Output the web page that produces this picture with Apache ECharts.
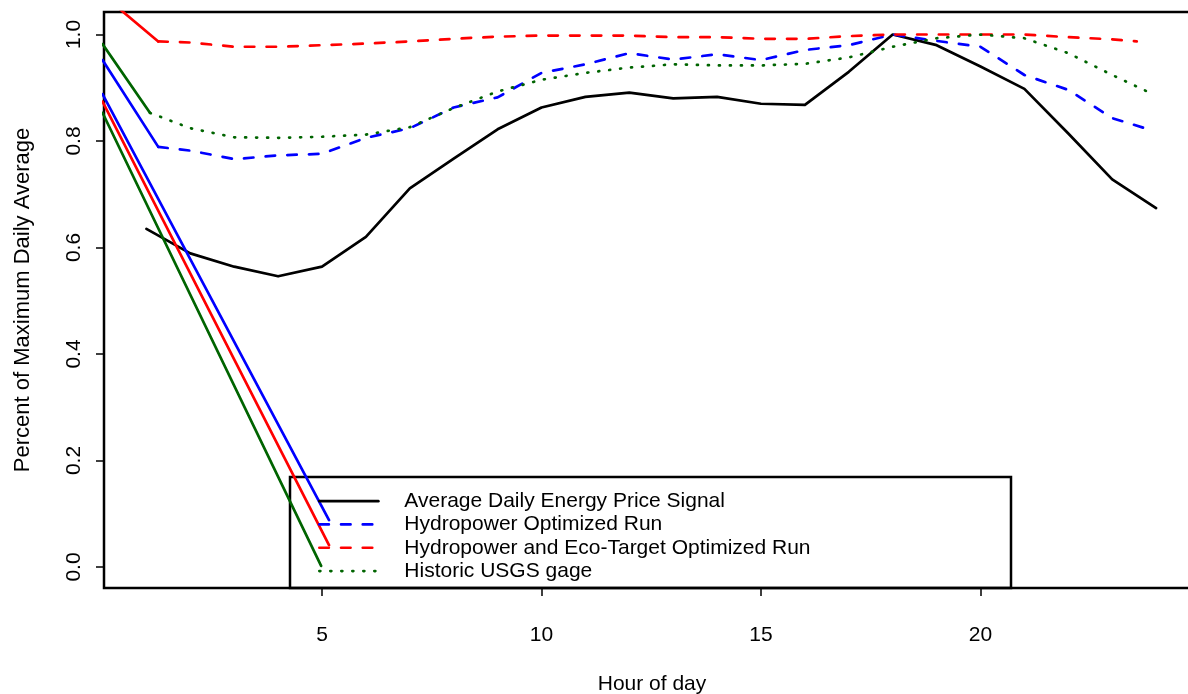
<!DOCTYPE html>
<html>
<head>
<meta charset="utf-8">
<script src="https://cdn.jsdelivr.net/npm/echarts@6/dist/echarts.min.js"></script>
<style>
  html, body { margin: 0; padding: 0; background: #ffffff; }
  #chart { width: 1188px; height: 694px; }
</style>
</head>
<body>
<div id="chart"></div>
<script>
// Hourly profiles, each normalised by its maximum daily average
const hours = [1, 2, 3, 4, 5, 6, 7, 8, 9, 10, 11, 12, 13, 14, 15, 16, 17, 18, 19, 20, 21, 22, 23, 24];
const priceSignal = [0.635, 0.589, 0.564, 0.546, 0.564, 0.620, 0.711, 0.767, 0.822, 0.863, 0.883, 0.891,
                     0.880, 0.883, 0.870, 0.868, 0.930, 1.000, 0.980, 0.940, 0.898, 0.814, 0.728, 0.674];

const hydroHours = [1.27, 2, 3, 4, 5, 6, 7, 8, 9, 10, 11, 12, 13, 14, 15, 16, 17, 18, 19, 20, 21, 22, 23, 23.71];
const hydroValues = [0.789, 0.782, 0.766, 0.773, 0.776, 0.806, 0.824, 0.863, 0.882, 0.928, 0.944, 0.965,
                     0.953, 0.963, 0.952, 0.971, 0.980, 1.000, 0.988, 0.977, 0.924, 0.896, 0.843, 0.825];

const ecoHours = [1.27, 2, 3, 4, 5, 6, 7, 8, 9, 10, 11, 12, 13, 14, 15, 16, 17, 18, 19, 20, 21, 22, 23, 23.56];
const ecoValues = [0.987, 0.985, 0.977, 0.977, 0.980, 0.983, 0.987, 0.992, 0.996, 0.998, 0.998, 0.998,
                   0.995, 0.995, 0.992, 0.992, 0.997, 1.000, 1.000, 1.000, 1.000, 0.995, 0.991, 0.987];

const gageHours = [1.08, 2, 3, 4, 5, 6, 7, 8, 9, 10, 11, 12, 13, 14, 15, 16, 17, 18, 19, 20, 21, 22, 23, 23.85];
const gageValues = [0.853, 0.824, 0.807, 0.806, 0.808, 0.812, 0.826, 0.862, 0.893, 0.915, 0.928, 0.938,
                    0.944, 0.942, 0.942, 0.945, 0.957, 0.977, 0.993, 1.000, 0.993, 0.965, 0.924, 0.891];

// Stray solid trace segments (start point, end point) for each run
const hydroTraceTop = [[0, 0.952], [1.27, 0.789]];
const ecoTraceTop = [[0, 1.075], [1.27, 0.987]];
const gageTraceTop = [[0, 0.982], [1.08, 0.853]];
const hydroTraceLow = [[0, 0.888], [5.16, 0.088]];
const ecoTraceLow = [[0, 0.874], [5.16, 0.041]];
const gageTraceLow = [[0, 0.853], [4.98, 0.002]];

// Axis ticks
const xTicks = [5, 10, 15, 20];
const yTicks = [0, 0.2, 0.4, 0.6, 0.8, 1.0];

const seriesNames = [
  'Average Daily Energy Price Signal',
  'Hydropower Optimized Run',
  'Hydropower and Eco-Target Optimized Run',
  'Historic USGS gage'
];

const BLACK = '#000000', BLUE = '#0000ff', RED = '#ff0000', GREEN = '#006400';
const FONT = '"Liberation Sans", Arial, Helvetica, sans-serif';
const LW = 2.7;
const DASHED = [9.5, 12.2];
const DOTTED = [1, 10];

const zip = (xs, ys) => xs.map((x, i) => [x, ys[i]]);

function lineSeries(name, data, color, dash) {
  return {
    name: name,
    type: 'line',
    data: data,
    symbol: 'none',
    clip: true,
    silent: true,
    itemStyle: { color: color },
    lineStyle: { color: color, width: LW, type: dash || 'solid', cap: 'round', join: 'round' },
    z: 3
  };
}

const chart = echarts.init(document.getElementById('chart'), null, { renderer: 'canvas' });

chart.setOption({
  animation: false,
  backgroundColor: '#ffffff',
  textStyle: { fontFamily: FONT, color: '#000' },
  grid: {
    left: 104, top: 12, width: 1096, height: 576,
    containLabel: false,
    outerBoundsMode: 'none',
    show: true, borderColor: '#000', borderWidth: 2.5, backgroundColor: 'transparent'
  },
  xAxis: {
    type: 'value',
    min: 0.034, max: 25,
    splitLine: { show: false },
    axisLine: { show: false, onZero: false },
    axisTick: { show: true, customValues: xTicks, length: 8, lineStyle: { color: '#000', width: 1.5 } },
    axisLabel: { customValues: xTicks, margin: 37, fontSize: 21, color: '#000', fontFamily: FONT },
    name: 'Hour of day',
    nameLocation: 'middle',
    nameGap: 86,
    nameTextStyle: { fontSize: 21, color: '#000', fontFamily: FONT }
  },
  yAxis: {
    type: 'value',
    min: -0.0394, max: 1.0423,
    splitLine: { show: false },
    axisLine: { show: false, onZero: false },
    axisTick: { show: true, customValues: yTicks, length: 8, lineStyle: { color: '#000', width: 1.5 } },
    axisLabel: {
      customValues: yTicks, rotate: 90, margin: 19, fontSize: 21, color: '#000', fontFamily: FONT,
      formatter: v => v.toFixed(1)
    },
    name: 'Percent of Maximum Daily Average',
    nameLocation: 'middle',
    nameRotate: 90,
    nameGap: 70,
    nameTextStyle: { fontSize: 22, color: '#000', fontFamily: FONT }
  },
  legend: {
    data: seriesNames,
    orient: 'vertical',
    left: 318, top: 489.5,
    padding: 0,
    itemGap: 0,
    itemWidth: 59,
    itemHeight: 14,
    selectedMode: false,
    itemStyle: { opacity: 0 },
    lineStyle: { width: LW },
    textStyle: { fontSize: 21, lineHeight: 23.3, color: '#000', fontFamily: FONT, padding: [0, 0, 0, 21] }
  },
  graphic: [{
    type: 'rect',
    shape: { x: 290, y: 477, width: 721, height: 111 },
    style: { fill: 'none', stroke: '#000', lineWidth: 2.5 },
    z: 2, silent: true
  }],
  series: [
    lineSeries(seriesNames[0], zip(hours, priceSignal), BLACK),
    lineSeries(seriesNames[1], zip(hydroHours, hydroValues), BLUE, DASHED),
    lineSeries(seriesNames[2], zip(ecoHours, ecoValues), RED, DASHED),
    lineSeries(seriesNames[3], zip(gageHours, gageValues), GREEN, DOTTED),
    lineSeries('', hydroTraceTop, BLUE),
    lineSeries('', ecoTraceTop, RED),
    lineSeries('', gageTraceTop, GREEN),
    lineSeries('', hydroTraceLow, BLUE),
    lineSeries('', ecoTraceLow, RED),
    lineSeries('', gageTraceLow, GREEN)
  ]
});
</script>
</body>
</html>
